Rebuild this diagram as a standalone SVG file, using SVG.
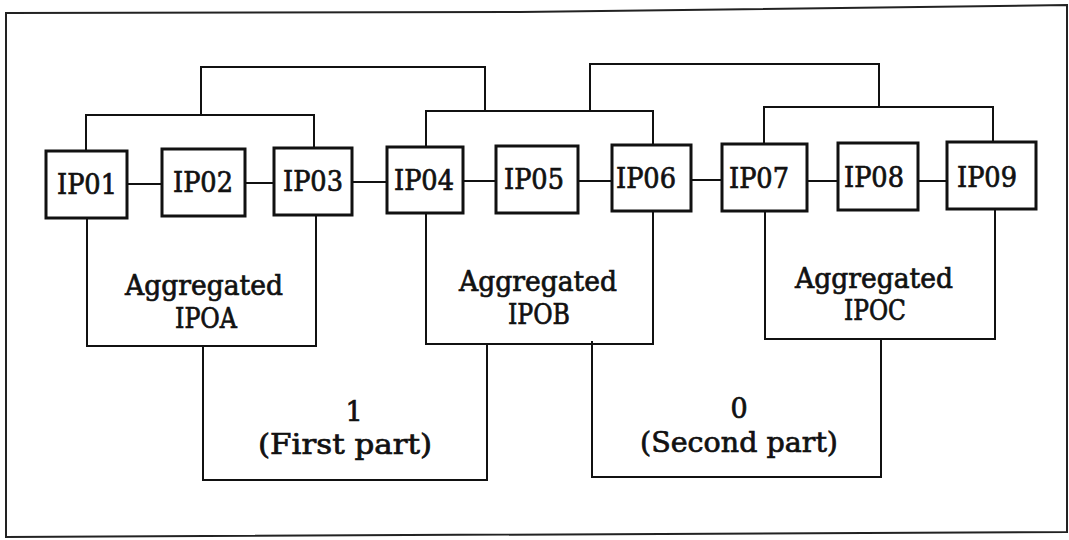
<svg xmlns="http://www.w3.org/2000/svg" width="1069" height="540" viewBox="0 0 1069 540">
<style>
.box{fill:#fff;stroke:#111;stroke-width:3}
.ln{fill:none;stroke:#111;stroke-width:2}
.frame{fill:none;stroke:#222;stroke-width:2}
.t{font-family:"DejaVu Serif","Liberation Serif",serif;fill:#111;stroke:#111;stroke-width:0.7;text-anchor:middle}
.ip{font-size:27px}
.ag{font-size:27px}
</style>
<rect width="1069" height="540" fill="#fff"/>
<path class="frame" d="M6,13 L520,12 L1067,5 L1067,532 L6,537 Z"/>
<g id="connectors">
<path class="ln" d="M127,184 H162 M245,183 H274 M352,182 H387 M463,181 H496 M578,181 H612 M691,180 H722 M807,181 H838 M918,181 H947"/>
<path class="ln" d="M86,151 V115 H314 V147"/>
<path class="ln" d="M426,147 V111 H653 V145"/>
<path class="ln" d="M764,143 V107 H993 V142"/>
<path class="ln" d="M201,115 V67 H485 V111"/>
<path class="ln" d="M590,111 V64 H879 V107"/>
<path class="ln" d="M203,346 V480 H487 V343"/>
<path class="ln" d="M592,341 V477 H881 V338"/>
</g>
<g id="IP01"><rect class="box" x="46" y="151" width="81" height="67"/><text class="t ip" x="87" y="194" textLength="60" lengthAdjust="spacingAndGlyphs">IP01</text></g>
<g id="IP02"><rect class="box" x="162" y="149" width="83" height="67"/><text class="t ip" x="203" y="192" textLength="60" lengthAdjust="spacingAndGlyphs">IP02</text></g>
<g id="IP03"><rect class="box" x="274" y="148" width="78" height="67"/><text class="t ip" x="313" y="191" textLength="60" lengthAdjust="spacingAndGlyphs">IP03</text></g>
<g id="IP04"><rect class="box" x="387" y="147" width="76" height="66"/><text class="t ip" x="424" y="190" textLength="60" lengthAdjust="spacingAndGlyphs">IP04</text></g>
<g id="IP05"><rect class="box" x="496" y="146" width="82" height="67"/><text class="t ip" x="534" y="189" textLength="60" lengthAdjust="spacingAndGlyphs">IP05</text></g>
<g id="IP06"><rect class="box" x="612" y="145" width="79" height="66"/><text class="t ip" x="646" y="188" textLength="60" lengthAdjust="spacingAndGlyphs">IP06</text></g>
<g id="IP07"><rect class="box" x="722" y="144" width="85" height="67"/><text class="t ip" x="759" y="188" textLength="60" lengthAdjust="spacingAndGlyphs">IP07</text></g>
<g id="IP08"><rect class="box" x="838" y="143" width="80" height="67"/><text class="t ip" x="874" y="187" textLength="60" lengthAdjust="spacingAndGlyphs">IP08</text></g>
<g id="IP09"><rect class="box" x="947" y="142" width="89" height="67"/><text class="t ip" x="987" y="187" textLength="60" lengthAdjust="spacingAndGlyphs">IP09</text></g>
<g id="IPOA"><path class="ln" d="M87,218 V346 H316 V215"/><text class="t ag" x="204" y="295" textLength="158" lengthAdjust="spacingAndGlyphs">Aggregated</text><text class="t ag" x="206" y="328" textLength="62" lengthAdjust="spacingAndGlyphs">IPOA</text></g>
<g id="IPOB"><path class="ln" d="M426,213 V344 H653 V211"/><text class="t ag" x="538" y="291" textLength="158" lengthAdjust="spacingAndGlyphs">Aggregated</text><text class="t ag" x="539" y="324" textLength="62" lengthAdjust="spacingAndGlyphs">IPOB</text></g>
<g id="IPOC"><path class="ln" d="M765,211 V339 H995 V209"/><text class="t ag" x="874" y="288" textLength="158" lengthAdjust="spacingAndGlyphs">Aggregated</text><text class="t ag" x="875" y="320" textLength="62" lengthAdjust="spacingAndGlyphs">IPOC</text></g>
<g id="first"><text class="t ag" x="354" y="421">1</text><text class="t ag" x="345" y="454" textLength="174" lengthAdjust="spacingAndGlyphs">(First part)</text></g>
<g id="second"><text class="t ag" x="739" y="418">0</text><text class="t ag" x="739" y="452" textLength="198" lengthAdjust="spacingAndGlyphs">(Second part)</text></g>
</svg>
